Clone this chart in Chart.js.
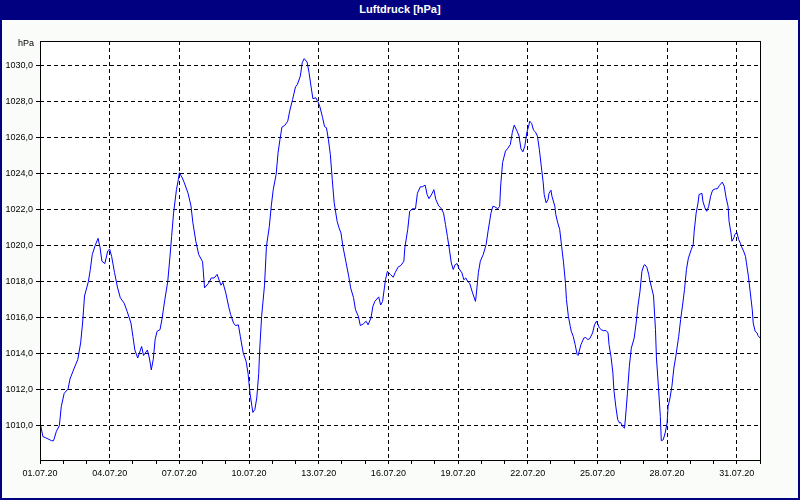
<!DOCTYPE html>
<html>
<head>
<meta charset="utf-8">
<title>Luftdruck [hPa]</title>
<script src="https://cdn.jsdelivr.net/npm/chart.js@4.4.0/dist/chart.umd.min.js"></script>
<style>
  html, body { margin: 0; padding: 0; background: #fff; }
  #frame { width: 800px; height: 500px; box-sizing: border-box; border: 2px solid #000080; background: #fafcfa; }
  #title { height: 18px; background: #000080; color: #fff; font: bold 11px "Liberation Sans", Arial, sans-serif; line-height: 15px; text-align: center; }
  canvas { display: block; }
</style>
</head>
<body>
<div id="frame">
  <div id="title">Luftdruck [hPa]</div>
  <canvas id="luftdruckChart" width="796" height="478"></canvas>
</div>
<script>
// hours since 01.07.20 00:00
const hours = [
  0, 3, 6, 12, 14, 17, 20, 22, 25, 29, 31, 35, 39, 42, 44, 46, 50, 52, 54, 57,
  60, 62, 64, 67, 70, 72, 74, 77, 80, 83, 87, 90, 94, 96, 98, 101, 105, 107, 111, 113,
  115, 117, 119, 121, 124, 126, 129, 132, 134, 136, 138, 141, 143, 144, 147, 149, 153, 156, 158, 161,
  164, 168, 170, 174, 177, 180, 183, 187, 189, 192, 195, 197, 200, 202, 205, 207, 210, 213, 215, 217,
  219, 220, 222, 224, 226, 227, 229, 232, 234, 237, 239, 241, 244, 246, 248, 250, 253, 256, 258, 261,
  264, 266, 269, 271, 273, 276, 278, 280, 282, 285, 287, 289, 292, 294, 296, 298, 300, 302, 304, 307,
  309, 311, 313, 316, 319, 321, 324, 326, 329, 331, 334, 337, 339, 342, 344, 346, 350, 352, 354, 357,
  359, 362, 365, 367, 370, 373, 376, 377, 380, 382, 385, 388, 390, 393, 395, 398, 400, 402, 405, 407,
  409, 412, 414, 417, 419, 421, 423, 425, 427, 429, 431, 433, 436, 438, 440, 442, 444, 447, 450, 451,
  453, 455, 458, 461, 463, 466, 468, 470, 473, 475, 476, 478, 481, 483, 486, 488, 490, 493, 495, 497,
  499, 501, 503, 505, 506, 508, 510, 512, 514, 516, 518, 520, 521, 523, 525, 526, 528, 529, 532, 533,
  535, 537, 539, 541, 543, 544, 546, 548, 549, 551, 553, 555, 556, 559, 562, 564, 566, 568, 571, 573,
  575, 576, 578, 580, 582, 585, 587, 588, 590, 592, 593, 595, 597, 599, 600, 602, 604, 605, 607, 609,
  611, 614, 616, 618, 620, 622, 624, 625, 627, 629, 630, 632, 634, 636, 637, 639, 641, 642, 644, 646,
  648, 649, 651, 653, 655, 657, 660, 662, 664, 666, 668, 670, 673, 675, 676, 678, 680, 681, 684, 685,
  687, 689, 691, 693, 695, 698, 700, 702, 705, 707, 709, 711, 712, 714, 715, 717, 718, 720, 722, 724,
  725, 727, 729, 730, 732, 734, 736, 737, 739, 741, 742, 744
];

const pressure = [
  1010.2, 1009.4, 1009.33, 1009.17, 1009.17, 1009.7, 1010.0, 1011.07, 1011.8, 1012.04, 1012.6, 1013.15, 1013.67, 1014.6, 1015.7, 1017.2, 1018.0, 1018.67, 1019.5, 1020.0,
  1020.4, 1019.9, 1019.13, 1019.0, 1019.7, 1019.8, 1019.4, 1018.5, 1017.7, 1017.1, 1016.8, 1016.35, 1015.7, 1014.96, 1014.2, 1013.76, 1014.4, 1013.9, 1014.2, 1013.76,
  1013.1, 1013.67, 1014.8, 1015.24, 1015.33, 1015.9, 1017.0, 1018.0, 1019.2, 1020.5, 1021.8, 1023.1, 1023.67, 1024.04, 1023.76, 1023.5, 1022.9, 1022.2, 1021.26, 1020.24,
  1019.5, 1019.1, 1017.65, 1017.9, 1018.2, 1018.2, 1018.4, 1017.8, 1017.96, 1017.37, 1016.6, 1016.17, 1015.7, 1015.56, 1015.6, 1014.96, 1014.04, 1013.57, 1012.9, 1011.8,
  1011.07, 1010.74, 1010.9, 1011.54, 1012.9, 1014.2, 1016.07, 1017.8, 1019.96, 1021.07, 1022.2, 1023.1, 1023.94, 1025.15, 1025.9, 1026.57, 1026.67, 1026.9, 1027.46, 1028.1,
  1028.8, 1028.94, 1029.4, 1030.15, 1030.37, 1030.18, 1029.6, 1028.85, 1028.15, 1028.2, 1028.0, 1027.74, 1027.1, 1026.6, 1026.54, 1025.9, 1025.06, 1023.67, 1022.37, 1021.35,
  1020.98, 1020.7, 1019.96, 1019.13, 1018.3, 1017.65, 1017.1, 1016.44, 1016.07, 1015.56, 1015.65, 1015.8, 1015.6, 1015.98, 1016.63, 1016.9, 1017.15, 1016.7, 1016.9, 1018.1,
  1018.57, 1018.4, 1018.24, 1018.5, 1018.8, 1018.9, 1019.13, 1019.87, 1020.9, 1021.9, 1022.04, 1022.04, 1022.9, 1023.26, 1023.26, 1023.35, 1022.83, 1022.6, 1022.87, 1023.1,
  1022.56, 1022.2, 1022.1, 1021.8, 1021.17, 1020.5, 1019.8, 1019.04, 1018.67, 1018.94, 1019.0, 1018.72, 1018.48, 1018.1, 1018.2, 1018.0, 1017.9, 1017.37, 1016.9, 1017.37,
  1018.5, 1019.13, 1019.5, 1020.06, 1020.8, 1021.8, 1022.18, 1022.15, 1022.04, 1022.18, 1023.3, 1024.6, 1025.24, 1025.37, 1025.6, 1026.26, 1026.68, 1026.35, 1026.07, 1025.37,
  1025.2, 1025.52, 1026.26, 1026.63, 1026.9, 1026.78, 1026.4, 1026.3, 1026.07, 1025.33, 1024.4, 1023.48, 1022.83, 1022.37, 1022.56, 1022.9, 1023.07, 1022.74, 1022.18, 1021.72,
  1021.26, 1020.9, 1019.96, 1019.04, 1017.9, 1017.0, 1016.07, 1015.5, 1015.24, 1014.96, 1014.5, 1013.96, 1013.9, 1014.5, 1014.87, 1014.9, 1014.78, 1014.83, 1015.15, 1015.6,
  1015.8, 1015.7, 1015.43, 1015.33, 1015.28, 1015.28, 1015.15, 1014.5, 1013.85, 1012.93, 1012.0, 1011.07, 1010.33, 1010.15, 1010.18, 1009.96, 1009.87, 1010.43, 1011.8, 1013.3,
  1014.3, 1014.87, 1015.7, 1016.7, 1017.46, 1018.57, 1018.9, 1018.94, 1018.8, 1018.4, 1018.1, 1017.65, 1017.2, 1015.33, 1013.76, 1012.2, 1010.52, 1009.17, 1009.22, 1009.6,
  1010.15, 1011.07, 1011.54, 1012.2, 1013.2, 1013.85, 1014.96, 1015.9, 1016.7, 1017.56, 1018.67, 1019.3, 1019.78, 1020.06, 1020.8, 1021.8, 1022.37, 1022.83, 1022.9, 1022.46,
  1022.1, 1021.9, 1022.18, 1022.74, 1023.07, 1023.15, 1023.15, 1023.33, 1023.52, 1023.3, 1022.65, 1022.18, 1021.35, 1020.7, 1020.24, 1020.43, 1020.6, 1020.74, 1020.33, 1020.1,
  1019.93, 1019.7, 1019.4, 1019.04, 1018.3, 1017.37, 1016.44, 1015.7, 1015.24, 1015.15, 1015.0, 1014.87
];

// one label every 3 days (72 h)
const tickLabels = [
  '01.07.20', '04.07.20', '07.07.20', '10.07.20', '13.07.20', '16.07.20',
  '19.07.20', '22.07.20', '25.07.20', '28.07.20', '31.07.20'
];

const tickFont = { family: '"Liberation Sans", Arial, sans-serif', size: 9 };

// white plot area, solid frame and the "hPa" unit above the y axis
const framePlugin = {
  id: 'frame',
  beforeDraw(chart) {
    const { ctx, chartArea: a } = chart;
    ctx.save();
    ctx.fillStyle = '#ffffff';
    ctx.fillRect(a.left, a.top, a.right - a.left, a.bottom - a.top);
    ctx.restore();
  },
  afterDraw(chart) {
    const { ctx, chartArea: a } = chart;
    ctx.save();
    ctx.strokeStyle = '#000';
    ctx.lineWidth = 1;
    ctx.strokeRect(a.left + 0.5, a.top + 0.5, a.right - a.left, a.bottom - a.top);
    ctx.font = '9px "Liberation Sans", Arial, sans-serif';
    ctx.fillStyle = '#000';
    ctx.textAlign = 'right';
    ctx.textBaseline = 'middle';
    ctx.fillText('hPa', a.left - 6, a.top + 3);
    ctx.restore();
  }
};

const canvas = document.getElementById('luftdruckChart');
new Chart(canvas.getContext('2d'), {
  type: 'line',
  data: {
    datasets: [{
      label: 'Luftdruck',
      data: hours.map((h, i) => ({ x: h, y: pressure[i] })),
      borderColor: '#0000ff',
      borderWidth: 1,
      pointRadius: 0,
      tension: 0,
      fill: false
    }]
  },
  options: {
    responsive: false,
    animation: false,
    layout: { padding: { top: 21, right: 38, left: 0, bottom: 0 } },
    plugins: {
      legend: { display: false },
      tooltip: { enabled: false }
    },
    scales: {
      x: {
        type: 'linear',
        min: 0,
        max: 744,
        afterFit: scale => { scale.height = 38; },
        ticks: {
          stepSize: 24,
          autoSkip: false,
          maxRotation: 0,
          padding: 4,
          color: '#000',
          font: tickFont,
          callback: v => (v % 72 === 0 ? tickLabels[v / 72] : '')
        },
        grid: {
          color: c => (c.tick && c.tick.value % 72 === 0 ? '#000' : 'rgba(0,0,0,0)'),
          tickColor: '#000',
          tickLength: 4,
          lineWidth: 1
        },
        border: { display: false, dash: [4, 3] }
      },
      y: {
        min: 1008.1,
        max: 1031.35,
        afterFit: scale => { scale.width = 38; },
        ticks: {
          stepSize: 2,
          includeBounds: false,
          padding: 3,
          color: '#000',
          font: tickFont,
          callback: v => v.toFixed(1).replace('.', ',')
        },
        grid: { color: '#000', tickColor: '#000', tickLength: 4, lineWidth: 1 },
        border: { display: false, dash: [4, 3] }
      }
    }
  },
  plugins: [framePlugin]
});
</script>
</body>
</html>
